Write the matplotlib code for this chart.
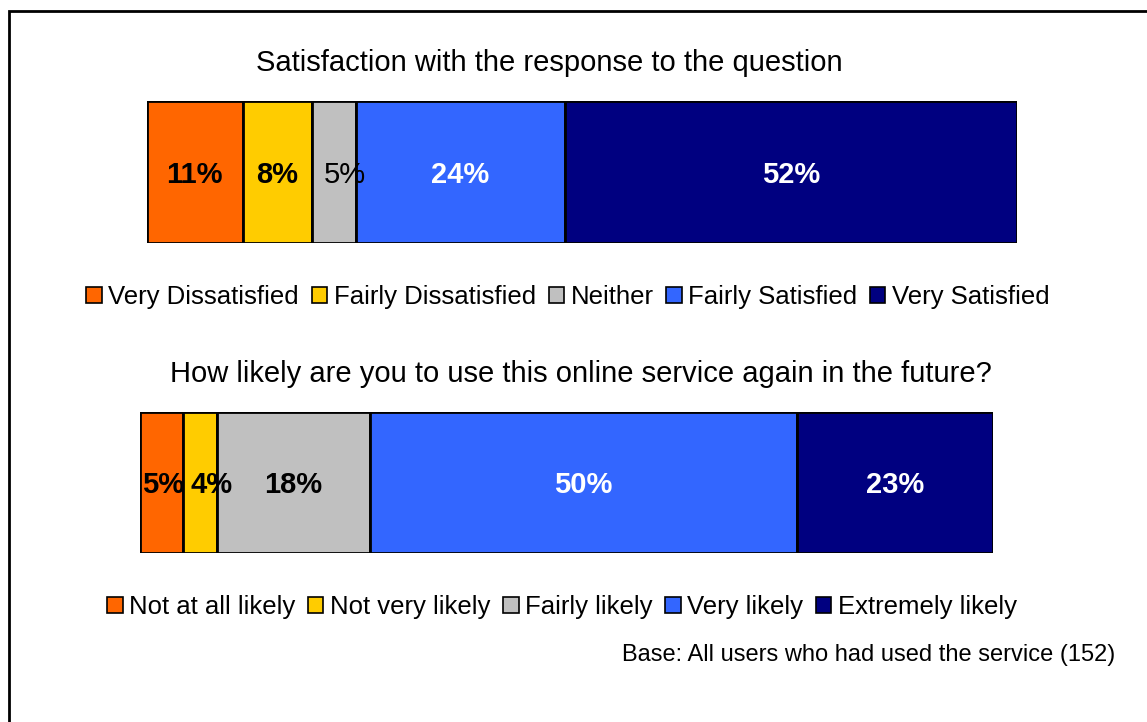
import matplotlib.pyplot as plt
from matplotlib.patches import Patch, Rectangle

plt.rcParams['font.family'] = ['Liberation Sans', 'DejaVu Sans']

# survey results, percent of respondents
sat_labels = ["Very Dissatisfied", "Fairly Dissatisfied", "Neither", "Fairly Satisfied", "Very Satisfied"]
sat_values = [11, 8, 5, 24, 52]

likely_labels = ["Not at all likely", "Not very likely", "Fairly likely", "Very likely", "Extremely likely"]
likely_values = [5, 4, 18, 50, 23]

colors = ["#FF6600", "#FFCC00", "#C0C0C0", "#3366FF", "#000080"]
text_colors = ["black", "black", "black", "white", "white"]

W, H = 1147, 722
fig = plt.figure(figsize=(W / 100, H / 100), dpi=100)

# outer frame
fig.patches.append(Rectangle((8.5 / W, -0.1), 1.2, (H - 10.5) / H + 0.1, transform=fig.transFigure,
                             fill=False, edgecolor="black", linewidth=2))


def px_axes(x0, y0, x1, y1):
    return fig.add_axes([x0 / W, (H - y1) / H, (x1 - x0) / W, (y1 - y0) / H])


def stacked_bar(ax, values, bold_flags, nudges):
    left = 0
    for v, c, tc, b, dx in zip(values, colors, text_colors, bold_flags, nudges):
        ax.barh(0, v, left=left, color=c, edgecolor="black", linewidth=2, height=1.0)
        ax.text(left + v / 2 + dx, -0.02, f"{v}%", ha="center", va="center", color=tc,
                fontsize=21, fontweight="bold" if b else "normal")
        left += v
    ax.set_xlim(0, 100)
    ax.set_ylim(-0.5, 0.5)
    ax.axis("off")


ax1 = px_axes(147, 101, 1017, 243)
stacked_bar(ax1, sat_values, [True, True, False, True, True], [0, 0, 1.2, 0, 0])

ax2 = px_axes(140, 412, 993, 553)
stacked_bar(ax2, likely_values, [True] * 5, [0.2, 1.4, 0, 0, 0])

fig.text(549 / W, 1 - 63 / H, "Satisfaction with the response to the question",
         ha="center", va="center", fontsize=21)
fig.text(581 / W, 1 - 374 / H, "How likely are you to use this online service again in the future?",
         ha="center", va="center", fontsize=21)


def legend_row(labels, cx, cy):
    handles = [Patch(facecolor=c, edgecolor="black", linewidth=1.2) for c in colors]
    fig.legend(handles, labels, loc="center", bbox_to_anchor=(cx / W, 1 - cy / H), ncol=5,
               frameon=False, fontsize=18.5, handlelength=0.6, handleheight=0.6,
               handletextpad=0.25, columnspacing=0.5, borderaxespad=0)


legend_row(sat_labels, 568, 297)
legend_row(likely_labels, 562, 607)

fig.text(1115 / W, 1 - 655 / H, "Base: All users who had used the service (152)",
         ha="right", va="center", fontsize=17)

fig.savefig("out.png", dpi=100)
